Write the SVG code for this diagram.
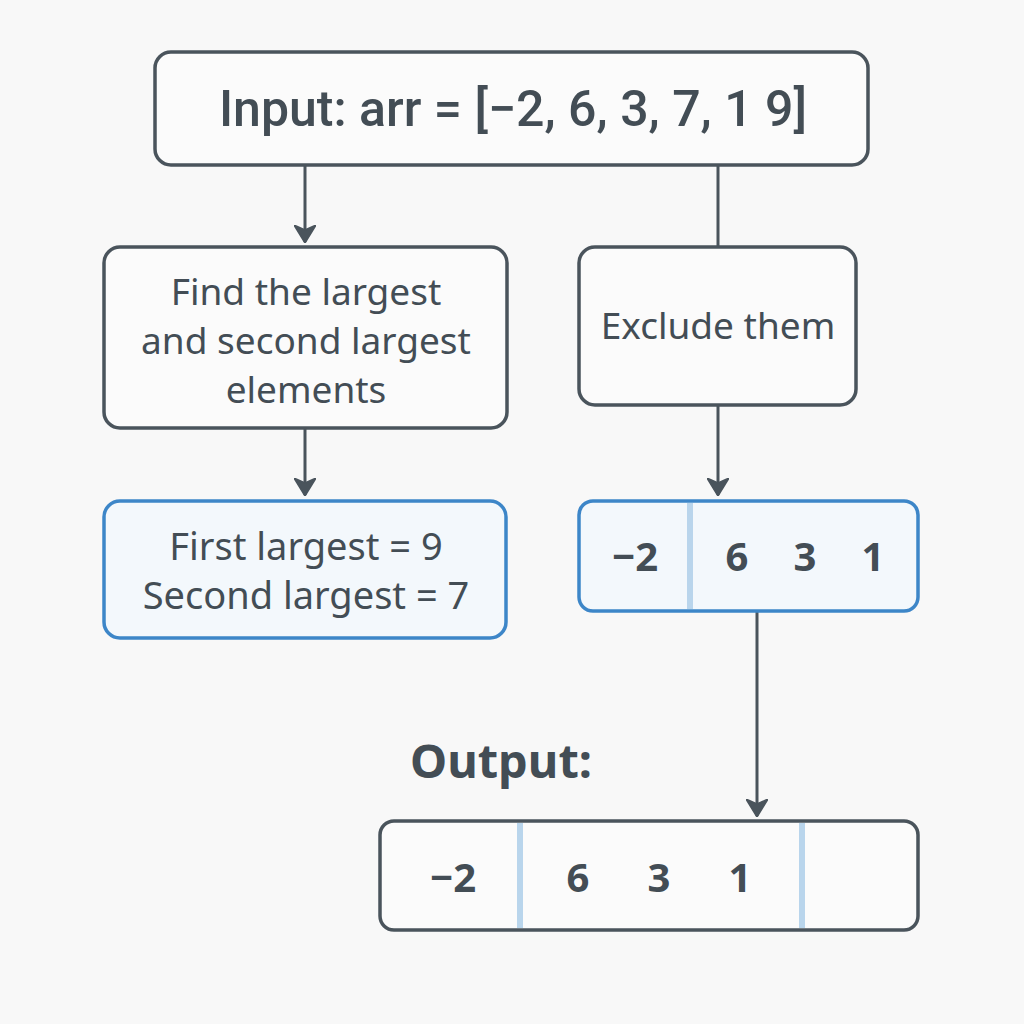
<svg xmlns="http://www.w3.org/2000/svg" width="1024" height="1024" viewBox="0 0 1024 1024">
<defs>
<style>
.box{fill:#fbfbfb;stroke:#4a545c;stroke-width:3.5}
.bbox{fill:#f3f8fc;stroke:#3d86c8;stroke-width:3.5}
.div{stroke:#b9d5ec;stroke-width:6}
.t{font-family:"Noto Sans","Open Sans",sans-serif;fill:#434d55;text-anchor:middle}
.n{font-family:"Noto Sans","Open Sans",sans-serif;fill:#434d55;text-anchor:middle;font-weight:700;font-size:40px}
.conn{stroke:#4a545c;stroke-width:3;fill:none}
</style>
<marker id="ah" viewBox="0 0 18 22" refX="17" refY="11" markerWidth="18" markerHeight="22" markerUnits="userSpaceOnUse" orient="auto">
<path d="M0,0 L18,11 L0,22 L5,11 z" fill="#4a545c" stroke="#4a545c" stroke-width="1.5" stroke-linejoin="round"/>
</marker>
</defs>
<rect width="1024" height="1024" fill="#f8f8f8"/>
<g id="connectors">
<line class="conn" x1="305" y1="166" x2="305" y2="242" marker-end="url(#ah)"/>
<line class="conn" x1="718" y1="166" x2="718" y2="247"/>
<line class="conn" x1="305" y1="429" x2="305" y2="495" marker-end="url(#ah)"/>
<line class="conn" x1="718" y1="406" x2="718" y2="495" marker-end="url(#ah)"/>
<line class="conn" x1="757" y1="612" x2="757" y2="816" marker-end="url(#ah)"/>
</g>
<g id="input">
<rect class="box" x="155" y="52" width="713" height="113" rx="16"/>
<text x="513" y="126" style="font-family:Roboto,'Noto Sans',sans-serif;font-weight:500;font-size:50px;fill:#434d55;text-anchor:middle">Input: arr = [−2, 6, 3, 7, 1 9]</text>
</g>
<g id="find">
<rect class="box" x="104" y="247" width="403" height="181" rx="16"/>
<text class="t" x="306" y="305" font-size="37">Find the largest</text>
<text class="t" x="306" y="354" font-size="37">and second largest</text>
<text class="t" x="306" y="403" font-size="37">elements</text>
</g>
<g id="exclude">
<rect class="box" x="579" y="247" width="277" height="158" rx="16"/>
<text class="t" x="718" y="339" font-size="37">Exclude them</text>
</g>
<g id="result">
<rect class="bbox" x="104" y="501" width="402" height="137" rx="16"/>
<text class="t" x="306" y="560" font-size="38">First largest = 9</text>
<text class="t" x="306" y="609" font-size="38">Second largest = 7</text>
</g>
<g id="remaining">
<rect class="bbox" x="579" y="501" width="339" height="110" rx="14"/>
<line class="div" x1="690" y1="503" x2="690" y2="609"/>
<text class="n" x="635" y="571">−2</text>
<text class="n" x="737" y="571">6</text>
<text class="n" x="805" y="571">3</text>
<text class="n" x="873" y="571">1</text>
</g>
<g id="output-label">
<text x="410" y="778" style="font-family:'Noto Sans','Open Sans',sans-serif;font-weight:700;font-size:47px;fill:#434d55">Output:</text>
</g>
<g id="output">
<rect class="box" x="380" y="821" width="538" height="109" rx="14"/>
<line class="div" x1="520" y1="823" x2="520" y2="928"/>
<line class="div" x1="802" y1="823" x2="802" y2="928"/>
<text class="n" x="453" y="892">−2</text>
<text class="n" x="578" y="892">6</text>
<text class="n" x="659" y="892">3</text>
<text class="n" x="740" y="892">1</text>
</g>
</svg>
